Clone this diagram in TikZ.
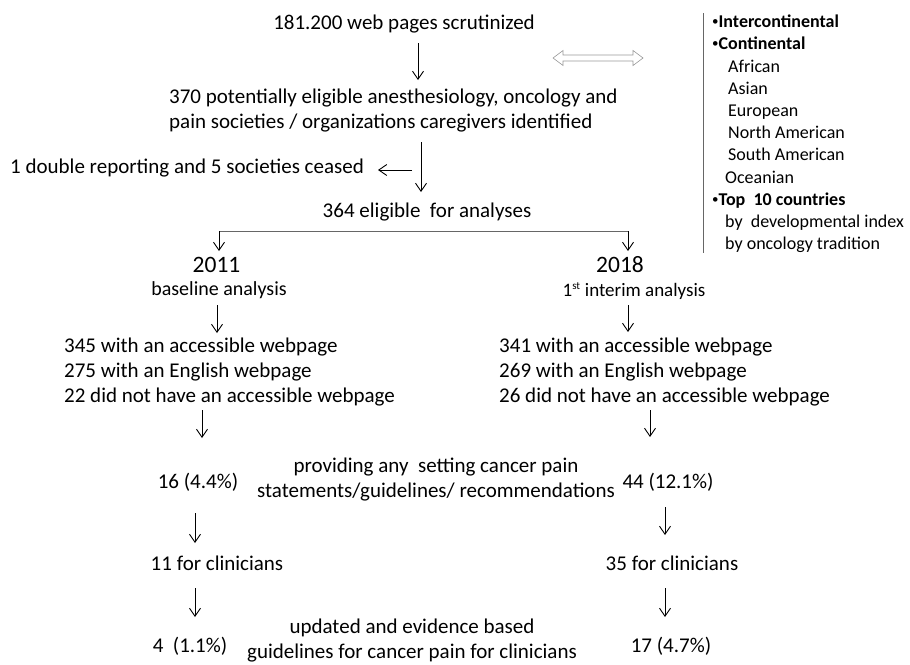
\documentclass[tikz,border=0pt]{standalone}
\usepackage{fontspec}
\setmainfont{Carlito}
\usetikzlibrary{arrows.meta}
\begin{document}
\begin{tikzpicture}[x=1pt,y=-1pt,
  txt/.style={inner sep=0pt, font=\fontsize{21}{25}\selectfont, text=black},
  sub/.style={inner sep=0pt, font=\fontsize{20}{24}\selectfont, text=black},
  yr/.style={inner sep=0pt, font=\fontsize{23.5}{28}\selectfont, text=black},
  lst/.style={inner sep=0pt, font=\fontsize{18}{22.2}\selectfont, text=black, align=left, anchor=west},
  arr/.style={draw=black, line width=0.9pt, -{Straight Barb[length=8pt,width=11pt,line width=0.9pt]}},
  ln/.style={draw=black!60, line width=0.9pt},
  hollow/.style={draw=black!40, fill=white, line width=0.6pt},
  sep/.style={draw=black!60, line width=0.9pt}]
\useasboundingbox (0,0) rectangle (910,664);

% top chain
\node[txt] (title) at (404,24) {181.200 web pages scrutinized};
\node[txt, align=left, anchor=west] (n370) at (169,111) {370 potentially eligible anesthesiology, oncology and\\pain societies / organizations caregivers identified};
\node[txt, anchor=west] (dbl) at (10,168) {1 double reporting and 5 societies ceased};
\node[txt] (n364) at (427,212) {364 eligible~~for analyses};

\coordinate (a1s) at (418,43);  \coordinate (a1e) at (418,80);
\coordinate (a2s) at (421,142); \coordinate (a2e) at (421,192);
\coordinate (hs) at (412,170);  \coordinate (he) at (378,170);
\draw[arr] (a1s) -- (a1e);
\draw[arr] (a2s) -- (a2e);
\draw[arr] (hs) -- (he);

% split
\coordinate (sL) at (219,231); \coordinate (sR) at (628,231);
\coordinate (tL) at (219,251); \coordinate (tR) at (628,251);
\draw[ln] (sL) -- (sR);
\draw[arr] (sL) -- (tL);
\draw[arr] (sR) -- (tR);

\node[yr] (y2011) at (216.5,264.5) {2011};
\node[yr] (y2018) at (620,264.5) {2018};
\node[sub] (bl) at (219,290.5) {baseline analysis};
\node[sub, font=\fontsize{19}{23}\selectfont] (ia) at (634,291) {1\textsuperscript{\fontsize{11}{13}\selectfont st} interim analysis};

\coordinate (b1s) at (217,305); \coordinate (b1e) at (217,333);
\coordinate (b2s) at (628,305); \coordinate (b2e) at (628,332);
\draw[arr] (b1s) -- (b1e);
\draw[arr] (b2s) -- (b2e);

\node[txt, align=left, anchor=west] (blkL) at (64,372) {345 with an accessible webpage\\275 with an English webpage\\22 did not have an accessible webpage};
\node[txt, align=left, anchor=west] (blkR) at (499,372) {341 with an accessible webpage\\269 with an English webpage\\26 did not have an accessible webpage};

\coordinate (c1s) at (202,410); \coordinate (c1e) at (202,438);
\coordinate (c2s) at (650,410); \coordinate (c2e) at (650,437);
\draw[arr] (c1s) -- (c1e);
\draw[arr] (c2s) -- (c2e);

\node[txt] (p16) at (198,482) {16 (4.4\%)};
\node[txt] (p44) at (668,482) {44 (12.1\%)};
\node[txt, align=center] (prov) at (436,480) {providing any~~setting cancer pain\\statements/guidelines/ recommendations};

\coordinate (d1s) at (195,513); \coordinate (d1e) at (195,543);
\coordinate (d2s) at (665,507); \coordinate (d2e) at (665,535);
\draw[arr] (d1s) -- (d1e);
\draw[arr] (d2s) -- (d2e);

\node[txt] (c11) at (217,563) {11 for clinicians};
\node[txt] (c35) at (672,563) {35 for clinicians};

\coordinate (e1s) at (195,588); \coordinate (e1e) at (195,617);
\coordinate (e2s) at (665,588); \coordinate (e2e) at (665,617);
\draw[arr] (e1s) -- (e1e);
\draw[arr] (e2s) -- (e2e);

\node[txt] (p4) at (190,646) {4~~(1.1\%)};
\node[txt] (p17) at (671,646) {17 (4.7\%)};
\node[txt, align=center] (upd) at (412,641) {updated and evidence based\\guidelines for cancer pain for clinicians};

% hollow double arrow
\draw[hollow] (553,58) -- (563,50.5) -- (563,55) -- (633,55) -- (633,50.5) -- (643,58)
  -- (633,65.5) -- (633,61) -- (563,61) -- (563,65.5) -- cycle;

% right list
\coordinate (vt) at (703,13); \coordinate (vb) at (703,253);
\draw[sep] (vt) -- (vb);
\node[lst] (list) at (712,134) {%
{\fontsize{13}{22.2}\selectfont\raisebox{2pt}{•}}\textbf{Intercontinental}\\
{\fontsize{13}{22.2}\selectfont\raisebox{2pt}{•}}\textbf{Continental}\\
\hspace*{16pt}African\\
\hspace*{16pt}Asian\\
\hspace*{16pt}European\\
\hspace*{16pt}North American\\
\hspace*{16pt}South American\\
\hspace*{13pt}Oceanian\\
{\fontsize{13}{22.2}\selectfont\raisebox{2pt}{•}}\textbf{Top~~10 countries}\\
\hspace*{13pt}by~~developmental index\\
\hspace*{13pt}by oncology tradition};
\end{tikzpicture}
\end{document}
